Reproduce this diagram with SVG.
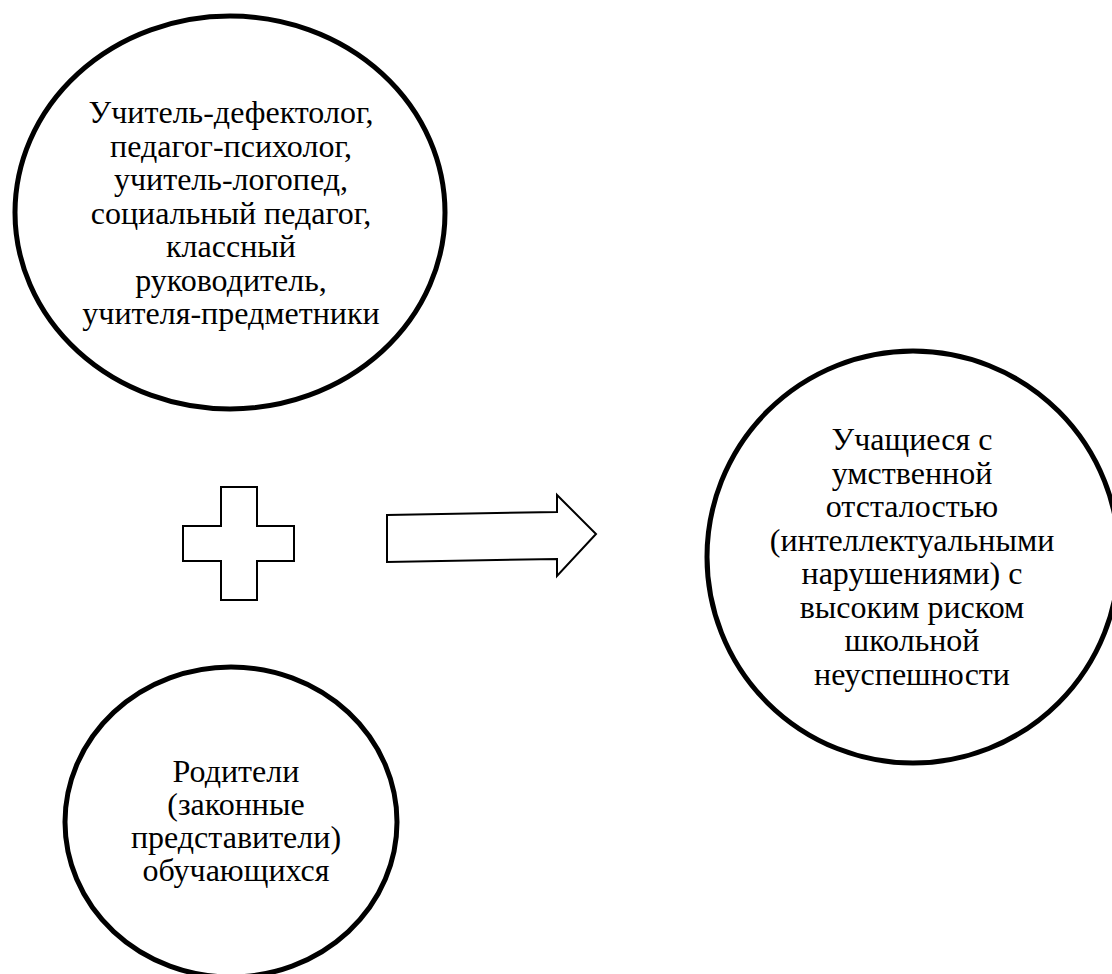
<svg xmlns="http://www.w3.org/2000/svg" width="1112" height="974" viewBox="0 0 1112 974">
<style>
.node{fill:#fff;stroke:#000;stroke-width:5}
.shape{fill:#fff;stroke:#000;stroke-width:2;stroke-linejoin:miter}
.lbl{font-family:'Liberation Serif','Times New Roman','DejaVu Serif',serif;font-size:32px;fill:#000;text-anchor:middle}
</style>
<rect width="1112" height="974" fill="#fff"/>
<g id="node-specialists">
<ellipse class="node" cx="230" cy="212.5" rx="215" ry="196.5"/>
<text class="lbl" x="231"><tspan x="231" y="123">Учитель-дефектолог,</tspan><tspan x="231" y="156.5">педагог-психолог,</tspan><tspan x="231" y="190">учитель-логопед,</tspan><tspan x="231" y="223.5">социальный педагог,</tspan><tspan x="231" y="257">классный</tspan><tspan x="231" y="290.5">руководитель,</tspan><tspan x="231" y="324">учителя-предметники</tspan></text>
</g>
<g id="node-students">
<ellipse class="node" cx="913" cy="557" rx="206" ry="206"/>
<text class="lbl" x="912"><tspan x="912" y="450">Учащиеся с</tspan><tspan x="912" y="483.5">умственной</tspan><tspan x="912" y="517">отсталостью</tspan><tspan x="912" y="550.5">(интеллектуальными</tspan><tspan x="912" y="584">нарушениями) с</tspan><tspan x="912" y="617.5">высоким риском</tspan><tspan x="912" y="651">школьной</tspan><tspan x="912" y="684.5">неуспешности</tspan></text>
</g>
<g id="node-parents">
<ellipse class="node" cx="231" cy="822" rx="166" ry="155"/>
<text class="lbl" x="236"><tspan x="236" y="782">Родители</tspan><tspan x="236" y="815">(законные</tspan><tspan x="236" y="848">представители)</tspan><tspan x="236" y="881">обучающихся</tspan></text>
</g>
<g id="connectors">
<polygon id="plus" class="shape" points="221,487 257,487 257,526 294,526 294,561 257,561 257,600 221,600 221,561 183,561 183,526 221,526"/>
<polygon id="arrow" class="shape" points="387,515 557,512 557,495 596,534 557,576 557,559 387,562"/>
</g>
</svg>
